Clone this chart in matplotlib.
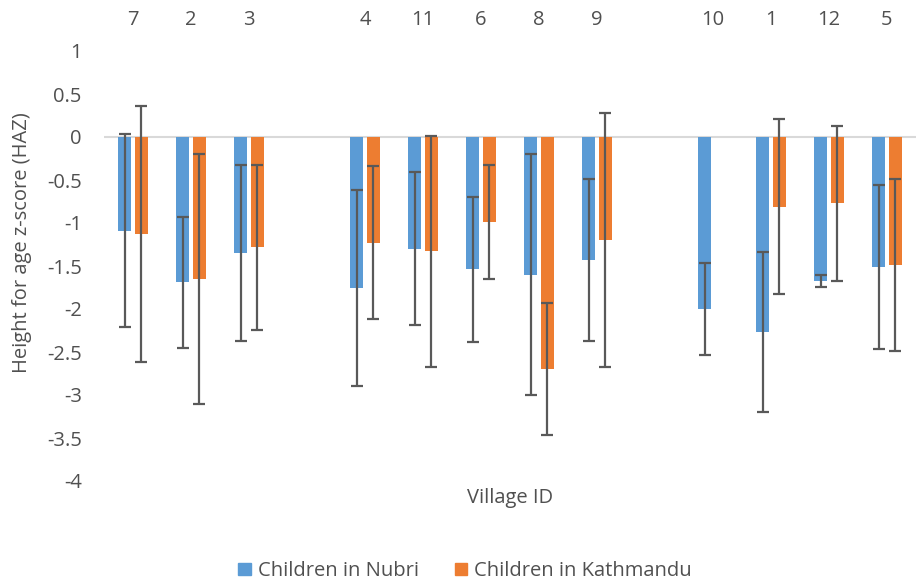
import matplotlib
matplotlib.use('Agg')
import matplotlib.pyplot as plt, numpy as np
from matplotlib.patches import Patch

plt.rcParams['font.family'] = ['Open Sans', 'DejaVu Sans']

villages  = ['7', '2', '3', '4', '11', '6', '8', '9', '10', '1', '12', '5']
slots     = [0, 1, 2, 4, 5, 6, 7, 8, 10, 11, 12, 13]   # empty slots between groups
nubri     = [-1.09, -1.69, -1.35, -1.76, -1.30, -1.54, -1.60, -1.43, -2.00, -2.27, -1.67, -1.51]
nubri_sd  = [1.12, 0.76, 1.02, 1.14, 0.89, 0.84, 1.40, 0.94, 0.53, 0.93, 0.07, 0.95]
kath      = [-1.13, -1.65, -1.28, -1.23, -1.33, -0.99, -2.70, -1.20, np.nan, -0.81, -0.77, -1.49]
kath_sd   = [1.49, 1.45, 0.96, 0.89, 1.34, 0.66, 0.77, 1.48, np.nan, 1.02, 0.90, 1.00]

blue, orange, grey = '#5B9BD5', '#ED7D31', '#505050'
fs = 14.5

fig = plt.figure(figsize=(9.2, 5.8), dpi=100)
ax = fig.add_axes([104/920, 1-481/580, 812/920, 430/580])

x = np.array(slots, dtype=float)
w, off = 0.22, 0.143
errkw = dict(ecolor='#595959', elinewidth=1.6, capsize=4, capthick=1.6)
ax.bar(x-off, nubri, w, color=blue, yerr=nubri_sd, error_kw=errkw, zorder=2)
ax.bar(x+off, kath, w, color=orange, yerr=kath_sd, error_kw=errkw, zorder=2)

ax.axhline(0, color='#d9d9d9', lw=1.5, zorder=1)
ax.set_xlim(-0.5, 13.5)
ax.set_ylim(-4, 1)
ax.set_yticks(np.arange(-4, 1.01, 0.5))
ax.set_yticklabels(['%g' % v for v in np.arange(-4, 1.01, 0.5)])
ax.xaxis.tick_top()
ax.set_xticks(x)
ax.set_xticklabels(villages)
ax.tick_params(axis='x', length=0, pad=15, labelsize=fs, labelcolor=grey)
ax.tick_params(axis='y', length=0, pad=16, labelsize=fs, labelcolor=grey)
for s in ax.spines.values():
    s.set_visible(False)

fig.text(22/920, 1-243/580, 'Height for age z-score (HAZ)', rotation=90,
         ha='center', va='center', fontsize=fs, color=grey)
fig.text(510/920, 1-498/580, 'Village ID', ha='center', va='center',
         fontsize=fs, color=grey)

handles = [Patch(color=blue, label='Children in Nubri'),
           Patch(color=orange, label='Children in Kathmandu')]
fig.legend(handles=handles, loc='center', bbox_to_anchor=(465/920, 1-571/580),
           ncol=2, frameon=False, fontsize=fs, handlelength=0.6, handleheight=0.6,
           handletextpad=0.35, columnspacing=1.8, labelcolor=grey)

fig.savefig('out.png', dpi=100)
